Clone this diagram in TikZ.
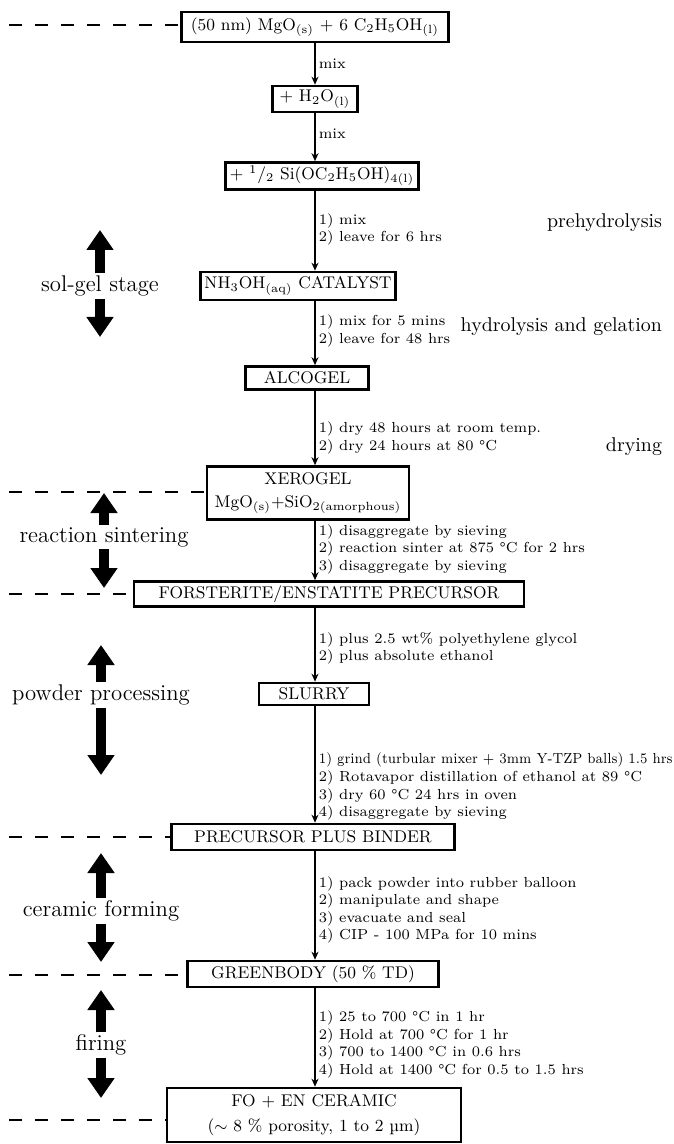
\documentclass[tikz,border=0pt]{standalone}
\usetikzlibrary{arrows.meta}

\tikzset{
    box/.style={draw, line width=1.3bp, inner xsep=2bp, inner ysep=1bp, align=center, font=\fontsize{8.5}{11.5}\selectfont},
    note/.style={right, inner xsep=1.5bp, align=left, font=\fontsize{7.3}{8.8}\selectfont},
    flow/.style={line width=0.8bp, -{Stealth[length=4bp,width=3.5bp]}},
    guide/.style={line width=1bp, dash pattern=on 6.5bp off 6.5bp},
    stage/.style={inner ysep=1bp, font=\fontsize{11.4}{13}\selectfont},
    stagearrow/.style={line width=4.6bp, -{Triangle[length=10bp,width=13bp]}},
    phase/.style={anchor=east, font=\fontsize{10}{12}\selectfont}
}

\begin{document}
\begin{tikzpicture}[x=0.5bp, y=-0.5bp]
    \useasboundingbox (0,0) rectangle (673,1144);

    % Process steps
    \node (mgo) [box, minimum width=133.5bp, minimum height=15bp] at (315,27) {(50 nm) MgO\textsubscript{(s)} + 6 C\textsubscript{2}H\textsubscript{5}OH\textsubscript{(l)}};
    \node (water) [box, minimum width=42.5bp, minimum height=13bp] at (315,99) {+ H\textsubscript{2}O\textsubscript{(l)}};
    \node (teos) [box, minimum width=96bp, minimum height=13.5bp] at (322,176) {+ \textsuperscript{1}/\textsubscript{2} Si(OC\textsubscript{2}H\textsubscript{5}OH)\textsubscript{4(l)}};
    \node (cat) [box, minimum width=82.5bp, minimum height=14bp] at (298,286) {NH\textsubscript{3}OH\textsubscript{(aq)} CATALYST};
    \node (alco) [box, minimum width=61.5bp, minimum height=11.5bp] at (307,378) {ALCOGEL};
    \node (xero) [box, minimum width=101bp, minimum height=26.5bp] at (308,493) {XEROGEL\\MgO\textsubscript{(s)}+SiO\textsubscript{2(amorphous)}};
    \node (fe) [box, minimum width=195bp, minimum height=12.5bp] at (329,594) {FORSTERITE/ENSTATITE PRECURSOR};
    \node (slurry) [box, minimum width=55bp, minimum height=11bp] at (314,694) {SLURRY};
    \node (binder) [box, minimum width=141.5bp, minimum height=13bp] at (313,837) {PRECURSOR PLUS BINDER};
    \node (green) [box, minimum width=125.5bp, minimum height=13bp] at (313,974) {GREENBODY (50 \% TD)};
    \node (fo) [box, minimum width=147bp, minimum height=27bp] at (314,1115) {FO + EN CERAMIC\\[1bp]($\sim$ 8 \% porosity, 1 to 2 µm)};

    % Arrows
    \draw [flow] (mgo) -- node [note] {mix} (water);
    \draw [flow] (water.south -| mgo) -- node [note, pos=.42] {mix} (teos.north -| mgo);
    \draw [flow] (teos.south -| mgo) -- node [note, pos=.48] {1) mix\\2) leave for 6 hrs} (cat.north -| mgo);
    \draw [flow] (cat.south -| mgo) -- node [note, pos=.46] {1) mix for 5 mins\\2) leave for 48 hrs} (alco.north -| mgo);
    \draw [flow] (alco.south -| mgo) -- node [note, pos=.63] {1) dry 48 hours at room temp.\\2) dry 24 hours at 80 °C} (xero.north -| mgo);
    \draw [flow] (xero.south -| mgo) -- node [note, pos=.48] {1) disaggregate by sieving\\2) reaction sinter at 875 °C for 2 hrs\\3) disaggregate by sieving} (fe.north -| mgo);
    \draw [flow] (fe.south -| mgo) -- node [note, pos=.55] {1) plus 2.5 wt\% polyethylene glycol\\2) plus absolute ethanol} (slurry.north -| mgo);
    \draw [flow] (slurry.south -| mgo) -- node [note, pos=.69] {\scalebox{0.9}[1]{1) grind (turbular mixer + 3mm Y-TZP balls) 1.5 hrs}\\2) Rotavapor distillation of ethanol at 89 °C\\3) dry 60 °C 24 hrs in oven\\4) disaggregate by sieving} (binder.north -| mgo);
    \draw [flow] (binder.south -| mgo) -- node [note, pos=.54] {1) pack powder into rubber balloon\\2) manipulate and shape\\3) evacuate and seal\\4) CIP - 100 MPa for 10 mins} (green.north -| mgo);
    \draw [flow] (green.south -| mgo) -- node [note, pos=.57] {1) 25 to 700 °C in 1 hr\\2) Hold at 700 °C for 1 hr\\3) 700 to 1400 °C in 0.6 hrs\\4) Hold at 1400 °C for 0.5 to 1.5 hrs} (fo.north -| mgo);

    % Stage names
    \node (prehyd) [phase] at (669,223) {prehydrolysis};
    \node (hydro) [phase] at (669,327) {hydrolysis and gelation};
    \node (drying) [phase] at (669,447) {drying};

    % Stages on the left
    \node (solgel) [stage] at (100,286) {sol-gel stage};
    \node (sinter) [stage] at (104,537) {reaction sintering};
    \node (powder) [stage] at (101,695) {powder processing};
    \node (forming) [stage] at (101,911) {ceramic forming};
    \node (firing) [stage] at (101,1045) {firing};

    \coordinate (solgelup) at (100,230);
    \coordinate (solgeldown) at (100,337);
    \coordinate (sinterup) at (104,493);
    \coordinate (sinterdown) at (104,588);
    \coordinate (powderup) at (101,645);
    \coordinate (powderdown) at (101,775);
    \coordinate (formingup) at (101,853);
    \coordinate (formingdown) at (101,962);
    \coordinate (firingup) at (101,990);
    \coordinate (firingdown) at (101,1098);

    \draw [stagearrow] (solgel.north) -- (solgelup);
    \draw [stagearrow] (solgel.south) -- (solgeldown);
    \draw [stagearrow] (sinter.north) -- (sinterup);
    \draw [stagearrow] (sinter.south) -- (sinterdown);
    \draw [stagearrow] (powder.north) -- (powderup);
    \draw [stagearrow] (powder.south) -- (powderdown);
    \draw [stagearrow] (forming.north) -- (formingup);
    \draw [stagearrow] (forming.south) -- (formingdown);
    \draw [stagearrow] (firing.north) -- (firingup);
    \draw [stagearrow] (firing.south) -- (firingdown);

    % Dashed stage borders
    \coordinate (g1) at (9,25);
    \coordinate (g2) at (9,492);
    \coordinate (g3) at (9,594);
    \coordinate (g4) at (9,837);
    \coordinate (g5) at (9,975);
    \coordinate (g6) at (9,1120);
    \draw [guide] (g1) -- (g1 -| mgo.west);
    \draw [guide] (g2) -- (g2 -| xero.west);
    \draw [guide] (g3) -- (g3 -| fe.west);
    \draw [guide] (g4) -- (g4 -| binder.west);
    \draw [guide] (g5) -- (g5 -| green.west);
    \draw [guide] (g6) -- (g6 -| fo.west);
\end{tikzpicture}
\end{document}
